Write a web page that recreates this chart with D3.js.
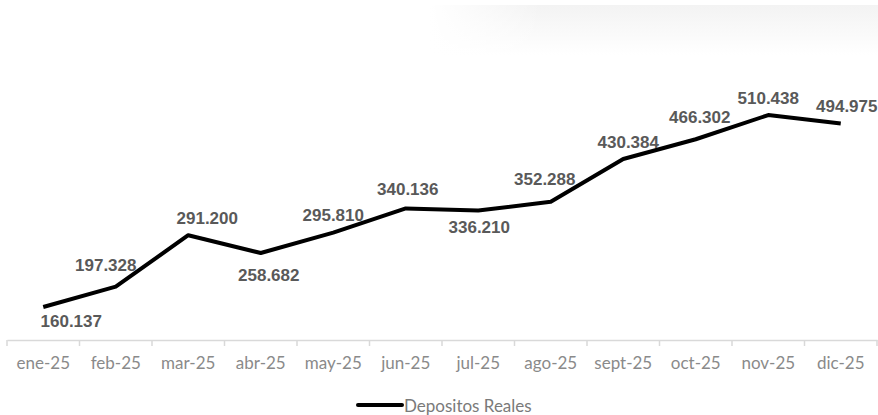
<!DOCTYPE html>
<html>
<head>
<meta charset="utf-8">
<script src="https://cdn.jsdelivr.net/npm/d3@7/dist/d3.min.js"></script>
<style>
  html, body { margin: 0; padding: 0; background: #fff; }
  svg { display: block; }
</style>
</head>
<body>
<svg id="chart" width="878" height="415"></svg>
<script>
// ---- data ----
const categories = ["ene-25","feb-25","mar-25","abr-25","may-25","jun-25","jul-25","ago-25","sept-25","oct-25","nov-25","dic-25"];
const values = [160137, 197328, 291200, 258682, 295810, 340136, 336210, 352288, 430384, 466302, 510438, 494975];
const seriesName = "Depositos Reales";
// label placement (offset of label centre from point), not data
const labelDx = [28, -10, 19, 8, 0, 2, 1, -6, 5, 4, 0, 6];
const labelDy = [14, -21, -17, 22, -17, -19, 17, -22, -16, -22, -17, -17];

const svg = d3.select("#chart");

// faint shadow artefact in top-right
const defs = svg.append("defs");
const g1 = defs.append("linearGradient").attr("id","shade").attr("x1","0").attr("x2","0").attr("y1","0").attr("y2","1");
g1.append("stop").attr("offset","0%").attr("stop-color","#f3f3f3");
g1.append("stop").attr("offset","100%").attr("stop-color","#ffffff");
const g2 = defs.append("linearGradient").attr("id","shadeH").attr("x1","0").attr("x2","1").attr("y1","0").attr("y2","0");
g2.append("stop").attr("offset","0%").attr("stop-color","#fff").attr("stop-opacity","1");
g2.append("stop").attr("offset","25%").attr("stop-color","#fff").attr("stop-opacity","0");
svg.append("rect").attr("x",430).attr("y",5).attr("width",448).attr("height",50).attr("fill","url(#shade)");
svg.append("rect").attr("x",430).attr("y",5).attr("width",448).attr("height",50).attr("fill","url(#shadeH)");

const x = d3.scaleBand().domain(categories).range([7, 877]);
const y = d3.scaleLinear().domain([100000, 600000]).range([340, 66]);

const loc = d3.formatLocale({decimal: ",", thousands: ".", grouping: [3], currency: ["$",""]});
const fmt = loc.format(",d");

// x axis
const axisY = y(100000);
const xAxis = d3.axisBottom(x).tickSize(0).tickPadding(17);
const ax = svg.append("g").attr("transform", `translate(0,${axisY})`).call(xAxis);
ax.select(".domain").attr("stroke", "#d9d9d9").attr("stroke-width", 1.5);
ax.selectAll(".tick text")
  .attr("fill", "#8a8a8a")
  .style("font-family", "Lato, 'Open Sans', sans-serif")
  .style("font-size", "17px");
// tick marks at category boundaries
const bounds = categories.map(c => x(c)).concat([x(categories[categories.length-1]) + x.bandwidth()]);
svg.append("g").selectAll("line").data(bounds).join("line")
  .attr("x1", d => d).attr("x2", d => d)
  .attr("y1", axisY).attr("y2", axisY + 6)
  .attr("stroke", "#d9d9d9").attr("stroke-width", 1.5);

// line
const px = i => x(categories[i]) + x.bandwidth() / 2;
const line = d3.line().x((d, i) => px(i)).y(d => y(d));
svg.append("path").datum(values)
  .attr("d", line)
  .attr("fill", "none")
  .attr("stroke", "#000")
  .attr("stroke-width", 4)
  .attr("stroke-linejoin", "round")
  .attr("stroke-linecap", "butt");

// data labels
svg.append("g").selectAll("text").data(values).join("text")
  .attr("x", (d, i) => px(i) + labelDx[i])
  .attr("y", (d, i) => y(d) + labelDy[i])
  .attr("text-anchor", "middle")
  .attr("dominant-baseline", "central")
  .attr("fill", "#595959")
  .style("font-family", "'Liberation Sans', Arial, sans-serif")
  .style("font-weight", "bold")
  .style("font-size", "17px")
  .text(d => fmt(d));

// legend
const lg = svg.append("g");
lg.append("line").attr("x1", 358).attr("x2", 402).attr("y1", 405).attr("y2", 405)
  .attr("stroke", "#000").attr("stroke-width", 4).attr("stroke-linecap", "round");
lg.append("text").attr("x", 404).attr("y", 405)
  .attr("dominant-baseline", "central")
  .attr("fill", "#7a7a7a")
  .style("font-family", "Lato, 'Open Sans', sans-serif")
  .style("font-size", "17px")
  .text(seriesName);
</script>
</body>
</html>
